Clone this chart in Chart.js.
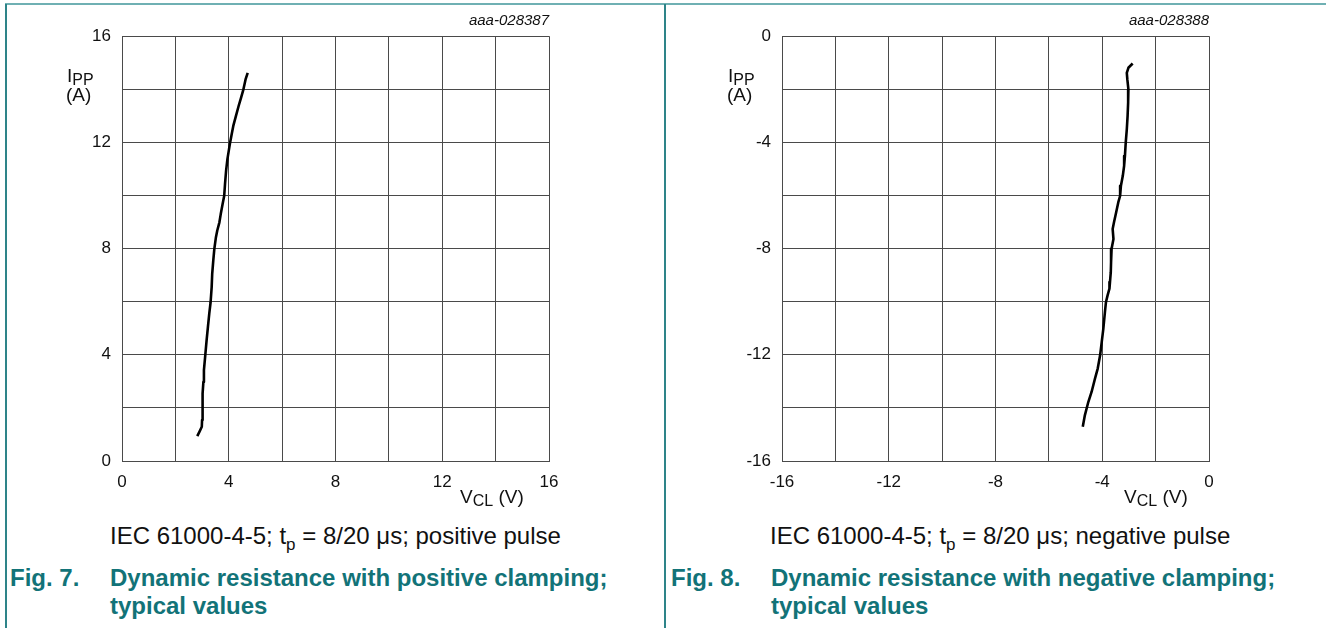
<!DOCTYPE html>
<html>
<head>
<meta charset="utf-8">
<script src="https://cdn.jsdelivr.net/npm/chart.js@4"></script>
<style>
  html, body { margin: 0; padding: 0; background: #fff; }
  body { width: 1326px; height: 628px; position: relative; overflow: hidden; font-family: "Liberation Sans", Arial, sans-serif; color: #111; }
  .abs { position: absolute; white-space: nowrap; }
  .frameTop { left: 5px; top: 3px; width: 1321px; height: 2px; background: #6fb0b3; }
  .frameL { left: 5px; top: 4px; width: 2px; height: 624px; background: #2e8489; }
  .frameMid { left: 664px; top: 4px; width: 2px; height: 624px; background: #2e8489; }
  canvas { position: absolute; }
  .code { font-size: 15px; line-height: 18px; font-style: italic; }
  .unit { font-size: 19px; line-height: 20px; }
  .unit sub { font-size: 16px; vertical-align: -3px; line-height: 0; }
  .cap { font-size: 24px; line-height: 27px; }
  .cap sub { font-size: 17px; vertical-align: -6px; line-height: 0; }
  .fig { font-size: 24px; line-height: 26px; font-weight: bold; color: #127378; }
</style>
</head>
<body>
<div class="abs frameTop"></div>
<div class="abs frameL"></div>
<div class="abs frameMid"></div>

<canvas id="posChart" width="510" height="485" style="left:60px;top:15px;width:510px;height:485px"></canvas>
<canvas id="negChart" width="510" height="485" style="left:720px;top:15px;width:510px;height:485px"></canvas>

<div class="abs code" style="right:777px;top:11px">aaa-028387</div>
<div class="abs code" style="right:117px;top:11px">aaa-028388</div>

<div class="abs unit" style="left:67px;top:66px">I<sub>PP</sub></div>
<div class="abs unit" style="left:66px;top:85px">(A)</div>
<div class="abs unit" style="left:728px;top:66px">I<sub>PP</sub></div>
<div class="abs unit" style="left:727px;top:85px">(A)</div>

<div class="abs unit" style="left:460px;top:487px">V<sub>CL</sub> (V)</div>
<div class="abs unit" style="left:1124px;top:487px">V<sub>CL</sub> (V)</div>

<div class="abs cap" style="left:110px;top:522px">IEC 61000-4-5; t<sub>p</sub> = 8/20 μs; positive pulse</div>
<div class="abs cap" style="left:770px;top:522px">IEC 61000-4-5; t<sub>p</sub> = 8/20 μs; negative pulse</div>

<div class="abs fig" style="left:10px;top:565px">Fig. 7.</div>
<div class="abs fig" style="left:110px;top:565px">Dynamic resistance with positive clamping;</div>
<div class="abs fig" style="left:110px;top:593px">typical values</div>
<div class="abs fig" style="left:671px;top:565px">Fig. 8.</div>
<div class="abs fig" style="left:771px;top:565px">Dynamic resistance with negative clamping;</div>
<div class="abs fig" style="left:771px;top:593px">typical values</div>

<script>
// positive clamping curve: V_CL (V) and I_PP (A)
const posVcl = [2.82, 2.90, 2.99, 3.00, 3.02, 3.02, 3.05, 3.07, 3.12, 3.17, 3.22, 3.27, 3.32, 3.36, 3.38, 3.42, 3.46, 3.52,
                3.57, 3.65, 3.70, 3.77, 3.83, 3.86, 3.90, 3.95, 4.00, 4.05, 4.11, 4.17, 4.27, 4.37, 4.46, 4.55, 4.63, 4.71];
const posIpp = [0.94, 1.10, 1.29, 1.54, 1.98, 2.54, 2.98, 3.42, 3.98, 4.54, 5.05, 5.55, 5.98, 6.55, 7.05, 7.55, 7.99, 8.43,
                8.68, 8.99, 9.30, 9.68, 9.99, 10.43, 10.93, 11.37, 11.68, 11.99, 12.31, 12.62, 13.00, 13.37, 13.68, 14.00, 14.37, 14.62];

// negative clamping curve: V_CL (V) and I_PP (A)
const negVcl = [-2.86, -3.02, -3.08, -3.06, -3.02, -3.03, -3.05, -3.08, -3.12, -3.15, -3.18, -3.23, -3.30, -3.33, -3.40, -3.48,
                -3.56, -3.61, -3.58, -3.65, -3.67, -3.68, -3.71, -3.73, -3.80, -3.86, -3.90, -3.96, -4.02, -4.08, -4.17, -4.27,
                -4.40, -4.52, -4.65, -4.73];
const negIpp = [-1.03, -1.19, -1.38, -1.63, -2.00, -2.50, -3.00, -3.51, -4.01, -4.51, -4.88, -5.26, -5.63, -6.01, -6.26, -6.64,
                -7.01, -7.26, -7.64, -8.01, -8.51, -8.89, -9.26, -9.51, -9.76, -10.01, -10.39, -11.02, -11.52, -12.02, -12.52, -12.89,
                -13.40, -13.77, -14.27, -14.71];

const posTicks = [0, 4, 8, 12, 16];
const negTicks = [-16, -12, -8, -4, 0];

function makeConfig(xs, ys, ticks) {
  const lo = ticks[0], hi = ticks[ticks.length - 1];
  const tickFont = { family: "Liberation Sans", size: 17 };
  const label = v => ticks.includes(v) ? String(v) : "";
  return {
    type: "scatter",
    data: {
      datasets: [{
        data: xs.map((x, i) => ({ x: x, y: ys[i] })),
        showLine: true,
        borderColor: "#000",
        borderWidth: 2.6,
        borderJoinStyle: "round",
        pointRadius: 0,
        tension: 0
      }]
    },
    options: {
      responsive: false,
      animation: false,
      layout: { padding: { top: 0, right: 21, left: 0, bottom: 0 } },
      plugins: { legend: { display: false }, tooltip: { enabled: false } },
      scales: {
        x: {
          type: "linear", min: lo, max: hi,
          ticks: { stepSize: 2, callback: label, color: "#111", font: tickFont, maxRotation: 0, autoSkip: false, padding: 11 },
          grid: { color: "#4a4a4a", lineWidth: 1, drawTicks: false },
          border: { color: "#4a4a4a" },
          afterFit: s => { s.height = 39; }
        },
        y: {
          type: "linear", min: lo, max: hi,
          ticks: { stepSize: 2, callback: label, color: "#111", font: tickFont, autoSkip: false, padding: 11 },
          grid: { color: "#4a4a4a", lineWidth: 1, drawTicks: false },
          border: { color: "#4a4a4a" },
          afterFit: s => { s.width = 62; }
        }
      }
    }
  };
}

new Chart(document.getElementById("posChart"), makeConfig(posVcl, posIpp, posTicks));
new Chart(document.getElementById("negChart"), makeConfig(negVcl, negIpp, negTicks));
</script>
</body>
</html>
